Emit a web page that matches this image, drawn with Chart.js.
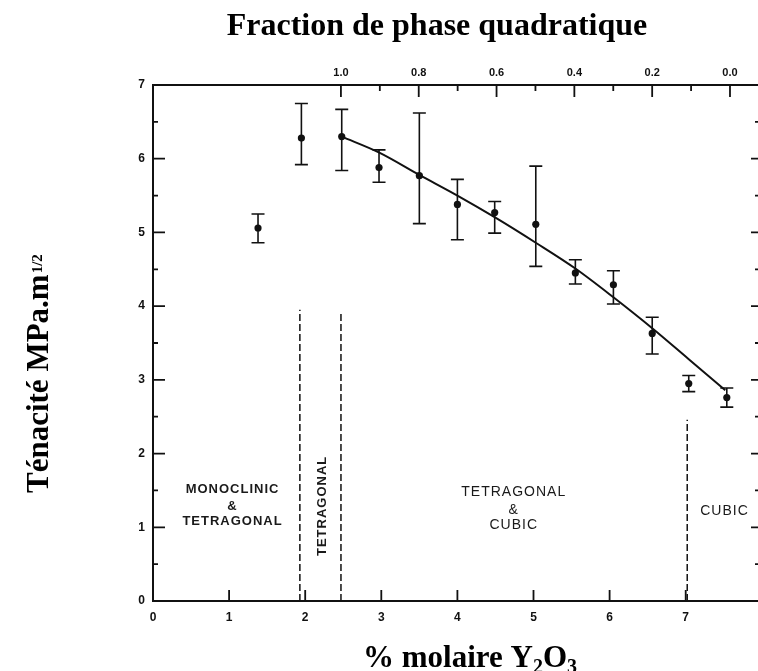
<!DOCTYPE html>
<html><head><meta charset="utf-8">
<script src="https://cdn.jsdelivr.net/npm/chart.js@4.4.1/dist/chart.umd.min.js"></script>
<style>html,body{margin:0;padding:0;background:#fff;overflow:hidden}canvas{display:block}</style>
</head><body><canvas id="c" width="758" height="671"></canvas>
<script>
// ---- data ----
const molPct    = [1.38, 1.95, 2.48, 2.97, 3.50, 4.00, 4.49, 5.03, 5.55, 6.05, 6.56, 7.04, 7.54];
const toughness = [5.06, 6.28, 6.30, 5.88, 5.77, 5.38, 5.27, 5.11, 4.45, 4.29, 3.63, 2.95, 2.76];
const errLow    = [4.86, 5.92, 5.84, 5.68, 5.12, 4.90, 4.99, 4.54, 4.30, 4.03, 3.35, 2.84, 2.63];
const errHigh   = [5.25, 6.75, 6.67, 6.12, 6.62, 5.72, 5.42, 5.90, 4.63, 4.48, 3.85, 3.06, 2.89];
const fitX = [2.48, 2.98, 3.50, 4.00, 4.50, 5.03, 5.55, 6.05, 6.56, 7.04, 7.52];
const fitY = [6.30, 6.08, 5.78, 5.50, 5.20, 4.86, 4.51, 4.12, 3.70, 3.28, 2.86];
const boundaryX   = [1.93, 2.47, 7.02];
const boundaryTop = [3.95, 3.93, 2.46];
const molTicks      = [0, 1, 2, 3, 4, 5, 6, 7];
const toughTicks    = [0, 1, 2, 3, 4, 5, 6, 7];
const toughMinor    = [0.5, 1.5, 2.5, 3.5, 4.5, 5.5, 6.5];
const fractionTicks = [1.0, 0.8, 0.6, 0.4, 0.2, 0.0];
const fractionMinor = [0.9, 0.7, 0.5, 0.3, 0.1];
const regionLabels = [
  {lines: ['MONOCLINIC', '&', 'TETRAGONAL'], x: 1.045, y: [1.52, 1.28, 1.085], bold: true},
  {lines: ['TETRAGONAL', '&', 'CUBIC'], x: 4.74, y: [1.47, 1.235, 1.03], bold: false},
  {lines: ['CUBIC'], x: 7.51, y: [1.225], bold: false}
];
const verticalLabel = {text: 'TETRAGONAL', x: 2.22, y: 1.29};

// ---- axis ranges ----
const X_MIN = 0, X_MAX = 7.95, Y_MIN = 0, Y_MAX = 7;
const FRAC_LEFT = 1.483, FRAC_RIGHT = -0.072;

const INK = '#111';
const tickFont = {family: 'Liberation Sans', size: 12, weight: 'bold'};

const boundaryDatasets = boundaryX.map((bx, i) => ({
  data: [{x: bx, y: 0}, {x: bx, y: boundaryTop[i]}],
  showLine: true, borderColor: INK, borderWidth: 1.5, borderDash: [7, 3],
  pointRadius: 0, order: 3
}));

const noPadX = s => { s.paddingLeft = 0; s.paddingRight = 0; };

const decor = {
  id: 'decor',
  afterDatasetsDraw(chart) {
    const ctx = chart.ctx, xs = chart.scales.x, ys = chart.scales.y;
    ctx.save();
    ctx.strokeStyle = INK; ctx.lineWidth = 1.6;
    molPct.forEach((m, i) => {
      const px = xs.getPixelForValue(m);
      const top = ys.getPixelForValue(errHigh[i]);
      const bot = ys.getPixelForValue(errLow[i]);
      ctx.beginPath();
      ctx.moveTo(px, top); ctx.lineTo(px, bot);
      ctx.moveTo(px - 6.5, top); ctx.lineTo(px + 6.5, top);
      ctx.moveTo(px - 6.5, bot); ctx.lineTo(px + 6.5, bot);
      ctx.stroke();
    });
    ctx.restore();
  },
  afterDraw(chart) {
    const ctx = chart.ctx, xs = chart.scales.x, ys = chart.scales.y, xt = chart.scales.x2;
    const a = chart.chartArea;
    ctx.save();
    ctx.strokeStyle = INK; ctx.lineWidth = 1.8;
    ctx.beginPath();
    toughTicks.forEach(v => { if (v > Y_MIN && v < Y_MAX) { const py = ys.getPixelForValue(v); ctx.moveTo(a.left, py); ctx.lineTo(a.left + 12, py); } });
    toughMinor.forEach(v => { const py = ys.getPixelForValue(v); ctx.moveTo(a.left, py); ctx.lineTo(a.left + 5, py); });
    toughTicks.forEach(v => { if (v > Y_MIN && v < Y_MAX) { const py = ys.getPixelForValue(v); ctx.moveTo(a.right, py); ctx.lineTo(a.right - 7, py); } });
    toughMinor.forEach(v => { const py = ys.getPixelForValue(v); ctx.moveTo(a.right, py); ctx.lineTo(a.right - 3, py); });
    molTicks.forEach(v => { if (v > X_MIN) { const px = xs.getPixelForValue(v); ctx.moveTo(px, a.bottom); ctx.lineTo(px, a.bottom - 11); } });
    fractionTicks.forEach(v => { const px = xt.getPixelForValue(v); ctx.moveTo(px, a.top); ctx.lineTo(px, a.top + 12); });
    fractionMinor.forEach(v => { const px = xt.getPixelForValue(v); ctx.moveTo(px, a.top); ctx.lineTo(px, a.top + 6); });
    ctx.stroke();

    ctx.fillStyle = '#1a1a1a';
    ctx.textAlign = 'center'; ctx.textBaseline = 'middle';
    regionLabels.forEach(r => {
      ctx.font = (r.bold ? 'bold 13px' : '14px') + ' "Liberation Sans"';
      ctx.letterSpacing = '1px';
      r.lines.forEach((t, k) => ctx.fillText(t, xs.getPixelForValue(r.x), ys.getPixelForValue(r.y[k])));
    });
    ctx.save();
    ctx.translate(xs.getPixelForValue(verticalLabel.x), ys.getPixelForValue(verticalLabel.y));
    ctx.rotate(-Math.PI / 2);
    ctx.font = 'bold 13px "Liberation Sans"';
    ctx.letterSpacing = '1px';
    ctx.fillText(verticalLabel.text, 0, 0);
    ctx.restore();
    ctx.letterSpacing = '0px';

    ctx.fillStyle = '#000';
    ctx.textBaseline = 'alphabetic';
    ctx.font = 'bold 32px "Liberation Serif"';
    ctx.textAlign = 'center';
    ctx.fillText('Fraction de phase quadratique', 437, 35);

    ctx.textAlign = 'left';
    const big = 'bold 31px "Liberation Serif"', small = 'bold 20px "Liberation Serif"';
    let x = 363; const base = 667;
    const parts = [['% molaire Y', big, 0], ['2', small, 6], ['O', big, 0], ['3', small, 6]];
    parts.forEach(([t, f, dy]) => { ctx.font = f; ctx.fillText(t, x, base + dy); x += ctx.measureText(t).width; });

    ctx.save();
    ctx.translate(48, 493);
    ctx.rotate(-Math.PI / 2);
    ctx.font = big;
    ctx.fillText('Ténacité MPa.m', 0, 0);
    const w = ctx.measureText('Ténacité MPa.m').width;
    ctx.font = 'bold 15px "Liberation Serif"';
    ctx.fillText('1/2', w + 1, -6);
    ctx.restore();
    ctx.restore();
  }
};

new Chart(document.getElementById('c'), {
  type: 'scatter',
  data: {
    datasets: [
      {data: molPct.map((m, i) => ({x: m, y: toughness[i]})), pointRadius: 3.6, pointBackgroundColor: INK, pointBorderColor: INK, pointBorderWidth: 0, showLine: false, order: 1},
      {data: fitX.map((m, i) => ({x: m, y: fitY[i]})), showLine: true, borderColor: INK, borderWidth: 2, pointRadius: 0, cubicInterpolationMode: 'monotone', order: 2},
      ...boundaryDatasets
    ]
  },
  options: {
    responsive: false, animation: false,
    layout: {padding: 0, autoPadding: false},
    plugins: {legend: {display: false}, tooltip: {enabled: false}, title: {display: false}},
    scales: {
      x: {
        type: 'linear', position: 'bottom', min: X_MIN, max: X_MAX,
        afterBuildTicks: s => { s.ticks = molTicks.map(v => ({value: v})); },
        afterFit: s => { s.height = 70; noPadX(s); },
        ticks: {padding: 9, color: INK, font: tickFont, callback: v => String(v)},
        grid: {display: false, drawTicks: false},
        border: {display: true, color: INK, width: 2}
      },
      x2: {
        type: 'linear', position: 'top', min: FRAC_RIGHT, max: FRAC_LEFT, reverse: true,
        afterBuildTicks: s => { s.ticks = fractionTicks.map(v => ({value: v})); },
        afterFit: s => { s.height = 85; noPadX(s); },
        ticks: {padding: 5, color: INK, font: {family: 'Liberation Sans', size: 11, weight: 'bold'}, callback: v => Number(v).toFixed(1)},
        grid: {display: false, drawTicks: false},
        border: {display: true, color: INK, width: 2}
      },
      y: {
        type: 'linear', position: 'left', min: Y_MIN, max: Y_MAX,
        afterBuildTicks: s => { s.ticks = toughTicks.map(v => ({value: v})); },
        afterFit: s => { s.width = 153; s.paddingTop = 0; s.paddingBottom = 0; },
        ticks: {padding: 8, color: INK, font: tickFont, callback: v => String(v)},
        grid: {display: false, drawTicks: false},
        border: {display: true, color: INK, width: 2}
      }
    }
  },
  plugins: [decor]
});
</script>
</body></html>
